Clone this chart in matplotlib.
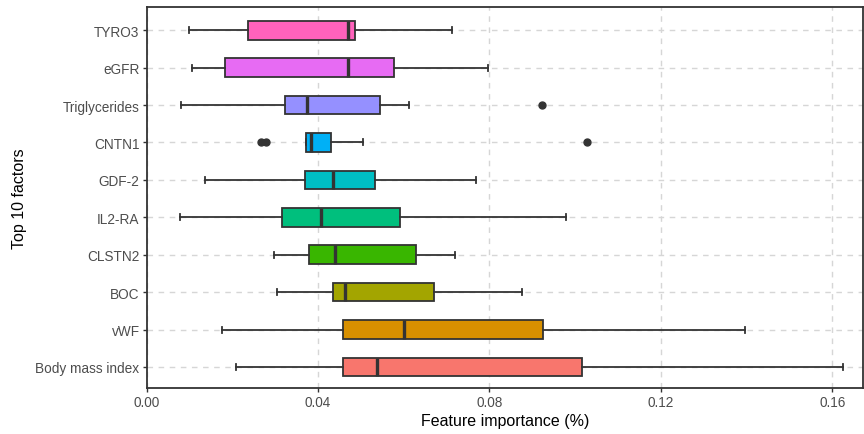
import matplotlib.pyplot as plt

plt.rcParams['font.family'] = ['Liberation Sans', 'DejaVu Sans']

# factors listed bottom to top
factors = ['Body mass index', 'vWF', 'BOC', 'CLSTN2', 'IL2-RA',
           'GDF-2', 'CNTN1', 'Triglycerides', 'eGFR', 'TYRO3']
whislo = [0.0208, 0.0175, 0.0304, 0.0297, 0.0078,
          0.0136, 0.0371, 0.0080, 0.0105, 0.0100]
q1 = [0.0458, 0.0458, 0.0434, 0.0379, 0.0316,
      0.0369, 0.0372, 0.0322, 0.0183, 0.0236]
med = [0.0538, 0.0600, 0.0464, 0.0440, 0.0407,
       0.0434, 0.0383, 0.0374, 0.0470, 0.0469]
q3 = [0.1017, 0.0926, 0.0670, 0.0628, 0.0591,
      0.0532, 0.0430, 0.0545, 0.0577, 0.0486]
whishi = [0.1625, 0.1396, 0.0877, 0.0719, 0.0978,
          0.0768, 0.0506, 0.0613, 0.0796, 0.0713]
fliers = [[], [], [], [], [], [], [0.0266, 0.0278, 0.1028], [0.0922], [], []]
colors = ['#F8766D', '#D89000', '#A3A500', '#39B600', '#00BF7D',
          '#00BFC4', '#00B0F6', '#9590FF', '#E76BF3', '#FF62BC']
xticks = [0.00, 0.04, 0.08, 0.12, 0.16]

stats = []
for i in range(len(factors)):
    stats.append({'label': factors[i], 'whislo': whislo[i], 'q1': q1[i],
                  'med': med[i], 'q3': q3[i], 'whishi': whishi[i],
                  'fliers': fliers[i]})

fig = plt.figure(figsize=(8.64, 4.35), dpi=100)
ax = fig.add_axes([0.1696, 0.106, 0.8294, 0.8756])

dark = '#333333'
pos = list(range(1, len(factors) + 1))
bp = ax.bxp(stats, positions=pos, vert=False, widths=0.5, patch_artist=True,
            capwidths=0.16,
            boxprops=dict(edgecolor=dark, linewidth=1.3),
            medianprops=dict(color=dark, linewidth=2.4),
            whiskerprops=dict(color=dark, linewidth=1.3),
            capprops=dict(color=dark, linewidth=1.3),
            flierprops=dict(marker='o', markerfacecolor=dark, markeredgecolor=dark,
                            markersize=5))
for patch, c in zip(bp['boxes'], colors):
    patch.set_facecolor(c)
    patch.set_zorder(3)
for k in ['whiskers', 'caps', 'medians', 'fliers']:
    for a in bp[k]:
        a.set_zorder(3 if k != 'medians' else 4)

ax.set_xlim(0, 0.1672)
ax.set_ylim(0.44, 10.62)
ax.set_xticks(xticks)
ax.set_xticklabels(['%.2f' % v for v in xticks])
ax.set_yticks(pos)
ax.set_yticklabels(factors)
ax.tick_params(axis='both', colors=dark, length=3, width=1, labelsize=9.8,
               labelcolor='#4D4D4D', pad=2)
ax.grid(True, color='#d6d6d6', linestyle=(0, (4, 4)), linewidth=1)
ax.set_axisbelow(True)
for s in ax.spines.values():
    s.set_color(dark)
    s.set_linewidth(1.3)

ax.set_xlabel('Feature importance (%)', fontsize=11.5, labelpad=3)
ax.set_ylabel('Top 10 factors', fontsize=11.5, labelpad=6)

fig.savefig('out.png', dpi=100)
